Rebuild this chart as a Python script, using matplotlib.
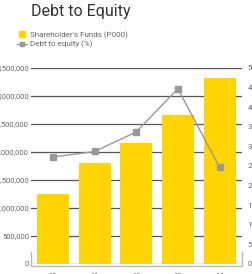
import matplotlib
matplotlib.use("Agg")
from matplotlib import pyplot as plt
from matplotlib.lines import Line2D
from matplotlib.ticker import FuncFormatter, MultipleLocator

plt.rcParams['font.family'] = ['Roboto', 'DejaVu Sans']

# data
years = ["10", "11", "12", "13", "14"]
funds = [1_245_000, 1_795_000, 2_155_000, 2_660_000, 3_325_000]   # P000
debt_to_equity = [27.3, 28.7, 33.7, 44.7, 24.7]                   # %

bar_color = "#FFD400"
line_color = "#999999"
text_color = "#666666"

W, H = 252, 274
fig = plt.figure(figsize=(W / 100, H / 100), dpi=100)
ax = fig.add_axes([31 / W, 10 / H, 211 / W, 196 / H])

x = range(len(years))
ax.bar(x, funds, width=0.77, color=bar_color, zorder=2)
ax.set_xlim(-0.53, 4.54)
ax.set_ylim(0, 3_500_000)
ax.yaxis.set_major_locator(MultipleLocator(500_000))
ax.yaxis.set_major_formatter(FuncFormatter(lambda v, p: f"{int(v):,}"))
ax.grid(axis="y", color="#555555", linewidth=0.9, zorder=0)
ax.set_axisbelow(True)
ax.set_xticks(list(x))
ax.set_xticklabels(years)
ax.tick_params(axis="y", length=0, pad=1.5, labelsize=5.5, labelcolor=text_color)
ax.tick_params(axis="x", length=0, pad=6.5, labelsize=5.5, labelcolor=text_color)
for s in ax.spines.values():
    s.set_visible(False)

# bracket at the bottom
ax.plot([0, 0, 1, 1], [0.06, -0.012, -0.012, 0.06], transform=ax.transAxes,
        color="#bbbbbb", linewidth=1, clip_on=False, zorder=1)

ax2 = ax.twinx()
ax2.plot(x, debt_to_equity, color=line_color, linewidth=1.0, marker="s",
         markersize=4.5, zorder=3)
ax2.set_ylim(0, 50)
ax2.yaxis.set_major_locator(MultipleLocator(5))
ax2.tick_params(axis="y", length=0, pad=4, labelsize=5.5, labelcolor=text_color)
for s in ax2.spines.values():
    s.set_visible(False)

fig.text(31 / W, 1 - 4 / H, "Debt to Equity", fontsize=11.5, color="#333333",
         va="top", ha="left")

handles = [
    Line2D([], [], color=bar_color, marker="s", markersize=4, linestyle="none"),
    Line2D([], [], color=line_color, marker="s", markersize=3.5, linewidth=1.0),
]
fig.legend(handles, ["Shareholder's Funds (P000)", "Debt to equity (%)"],
           loc="upper left", bbox_to_anchor=(17 / W, 1 - 31 / H), frameon=False,
           fontsize=5.8, labelcolor=text_color, handlelength=1.3, handleheight=0.6,
           handletextpad=0.3, labelspacing=0.25, borderpad=0, borderaxespad=0)

fig.savefig("out.png", dpi=100)
